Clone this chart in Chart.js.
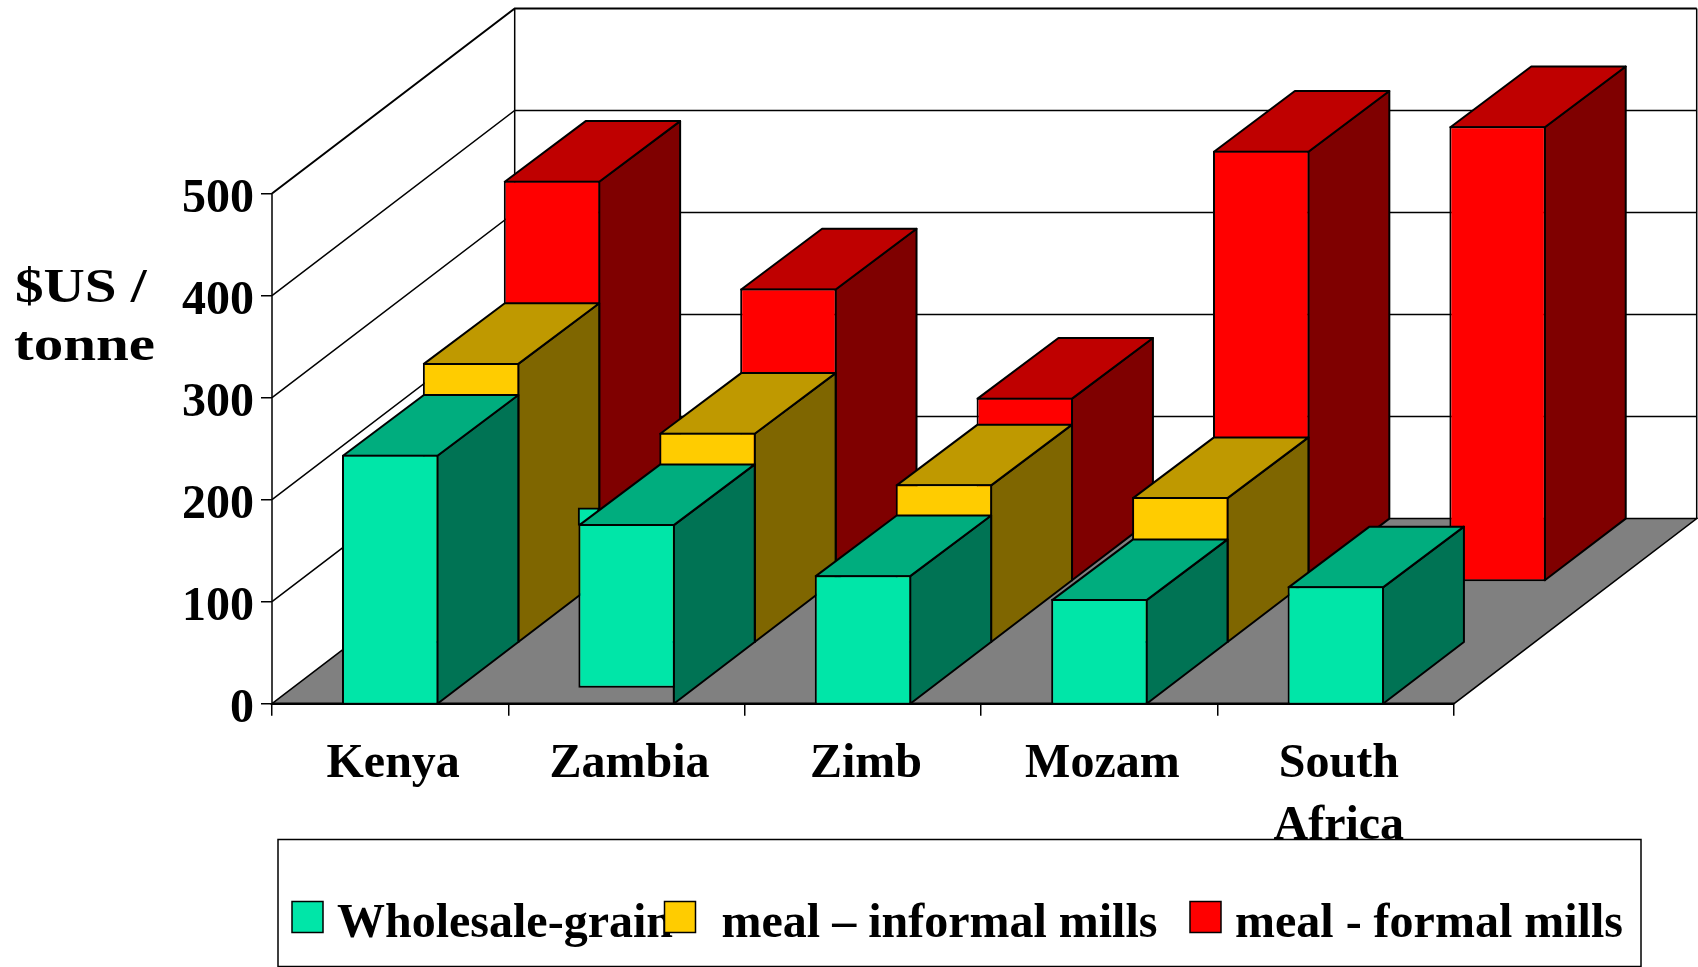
<!DOCTYPE html>
<html>
<head>
<meta charset="utf-8">
<title>Maize prices</title>
<style>
    html, body { margin: 0; padding: 0; background: #fff; overflow: hidden; }
    canvas { display: block; }
</style>
<script src="https://cdn.jsdelivr.net/npm/chart.js@4"></script>
</head>
<body>
<canvas id="chart" width="1698" height="967"></canvas>
<script>
const categories = ['Kenya', 'Zambia', 'Zimb', 'Mozam', ['South', 'Africa']];
const yTicks = [0, 100, 200, 300, 400, 500];
const seriesNames = ['Wholesale-grain', 'meal \u2013 informal mills', 'meal - formal mills'];

// values, the Zambia grain bar floats a little above the floor
const grain = [244, [15.7, 176], 126, 102.5, 115];
const informal = [273.5, 205, 154.5, 142, null];
const formal = [391.5, 286, 179, 421, 445];
// sliver of the Zambia grain bar that pokes out behind its top face
const zambiaSliver = [null, [175, 192], null, null, null];

const frontColors = ['#00E6A8', '#FFCC00', '#FF0000'];
const topColors = ['#00AD7E', '#BF9900', '#BF0000'];
const sideColors = ['#007354', '#7F6600', '#7F0000'];

const FONT = 'bold 48px "Liberation Serif"';
const SLOT_X = 80.9;
const SLOT_Y = 61.7;
const TOP_RISE = 60.7; // top faces come out a touch shallower than the floor slots
const BAR_LINE = 2;

function facePath(ctx, pts, fill) {
    ctx.beginPath();
    pts.forEach((p, i) => i ? ctx.lineTo(p[0], p[1]) : ctx.moveTo(p[0], p[1]));
    ctx.closePath();
    ctx.fillStyle = fill;
    ctx.fill();
    ctx.stroke();
}

const room = {
    id: 'room',
    beforeDatasetsDraw(chart) {
        const { ctx, scales: { x, y } } = chart;
        const dx = SLOT_X * 3, dy = SLOT_Y * 3;
        const y0 = y.getPixelForValue(0);
        const yTop = y.getPixelForValue(500);
        ctx.save();
        ctx.strokeStyle = '#000';
        ctx.lineWidth = 1.5;
        facePath(ctx, [[x.left, y0], [x.left + dx, y0 - dy], [x.right + dx, y0 - dy], [x.right, y0]], '#808080');

        yTicks.forEach(t => {
            if (t === 0) return;
            const py = y.getPixelForValue(t);
            ctx.beginPath();
            ctx.moveTo(x.left, py);
            ctx.lineTo(x.left + dx, py - dy);
            ctx.lineTo(x.right + dx, py - dy);
            ctx.lineWidth = t === 500 ? 2 : 1.5;
            ctx.stroke();
        });
        ctx.lineWidth = 1.5;
        ctx.beginPath();
        ctx.moveTo(x.left + dx, yTop - dy);
        ctx.lineTo(x.left + dx, y0 - dy);
        ctx.moveTo(x.right + dx, yTop - dy);
        ctx.lineTo(x.right + dx, y0 - dy);
        ctx.moveTo(x.left, yTop);
        ctx.lineTo(x.left, y0);
        ctx.stroke();
        ctx.lineWidth = 2.5;
        ctx.beginPath();
        ctx.moveTo(x.left, y0);
        ctx.lineTo(x.right, y0);
        ctx.stroke();
        ctx.restore();
    }
};

// each series sits one depth slot further back, so shift it and add its faces
const depth = {
    id: 'depth',
    beforeDatasetDraw(chart, args) {
        const { ctx, scales: { y } } = chart;
        const ds = chart.data.datasets[args.index];
        const slot = ds.slot;
        ctx.save();
        ctx.translate(SLOT_X * slot + (ds.shiftX || 0), -SLOT_Y * slot);
        if (ds.flat) return;

        const y0 = y.getPixelForValue(0);
        const inset = BAR_LINE / 2;
        ctx.save();
        ctx.strokeStyle = '#000';
        ctx.lineWidth = BAR_LINE;
        ctx.lineJoin = 'round';
        args.meta.data.forEach((bar, i) => {
            if (ds.data[i] === null) return;
            const b = bar.getProps(['x', 'y', 'width'], true);
            const l = b.x - b.width / 2 + inset, r = b.x + b.width / 2 - inset;
            const t = b.y + inset;
            facePath(ctx, [[r, t], [r + SLOT_X, t - TOP_RISE], [r + SLOT_X, y0 - SLOT_Y], [r, y0]], sideColors[slot]);
            facePath(ctx, [[l, t], [l + SLOT_X, t - TOP_RISE], [r + SLOT_X, t - TOP_RISE], [r, t]], topColors[slot]);
        });
        ctx.restore();
    },
    afterDatasetDraw(chart) {
        chart.ctx.restore();
    }
};

function stretchedText(ctx, text, x, y, stretch) {
    ctx.save();
    ctx.translate(x, y);
    ctx.scale(stretch, 1);
    ctx.fillText(text, 0, 0);
    ctx.restore();
}

const captions = {
    id: 'captions',
    afterDraw(chart) {
        const ctx = chart.ctx;
        ctx.save();
        ctx.fillStyle = '#000';
        ctx.font = FONT;
        ctx.textBaseline = 'alphabetic';
        ctx.textAlign = 'left';

        // the axis title is stretched sideways in the original
        stretchedText(ctx, '$US /', 15, 302, 1.19);
        stretchedText(ctx, 'tonne', 14, 360, 1.23);

        // legend box runs off the bottom of the page
        ctx.strokeStyle = '#000';
        ctx.lineWidth = 1.5;
        ctx.strokeRect(278, 839.5, 1363, 127);

        const swatchX = [292, 664.5, 1190];
        const textX = [337, 721.5, 1235];
        seriesNames.forEach((name, i) => {
            ctx.fillStyle = '#000';
            ctx.fillText(name, textX[i], 936.5);
        });
        seriesNames.forEach((name, i) => {
            ctx.fillStyle = frontColors[i];
            ctx.fillRect(swatchX[i], 901.5, 31, 31);
            ctx.strokeRect(swatchX[i], 901.5, 31, 31);
        });
        ctx.restore();
    }
};

function makeSeries(label, data, slot, order, color, extra) {
    return Object.assign({
        label, data, slot, order,
        backgroundColor: color,
        borderColor: '#000',
        borderWidth: BAR_LINE,
        borderSkipped: false,
        grouped: false,
        barPercentage: 0.408,
        categoryPercentage: 1,
        base: -1, // keeps the bottom outline on the floor line, not inside it
        clip: false
    }, extra);
}

new Chart(document.getElementById('chart'), {
    type: 'bar',
    data: {
        labels: categories,
        datasets: [
            makeSeries(seriesNames[0], grain, 0, 1, frontColors[0]),
            makeSeries('', zambiaSliver, 0, 2, frontColors[0], { flat: true, barThickness: 21, shiftX: -38 }),
            makeSeries(seriesNames[1], informal, 1, 3, frontColors[1]),
            makeSeries(seriesNames[2], formal, 2, 4, frontColors[2])
        ]
    },
    options: {
        responsive: false,
        animation: false,
        layout: { padding: { top: 193.5, right: 244, left: 0, bottom: 0 } },
        plugins: { legend: { display: false }, title: { display: false }, tooltip: { enabled: false } },
        scales: {
            x: {
                offset: true,
                grid: { offset: true, drawOnChartArea: false, color: '#000', lineWidth: 1.5, tickLength: 12 },
                border: { display: false },
                ticks: {
                    color: '#000',
                    font: { family: 'Liberation Serif', size: 48, weight: 'bold', lineHeight: 1.285 },
                    maxRotation: 0,
                    autoSkip: false,
                    labelOffset: 3,
                    padding: 18
                },
                afterFit(scale) { scale.height = 263.3; }
            },
            y: {
                min: 0,
                max: 500,
                grid: { drawOnChartArea: false, color: '#000', lineWidth: 1.5, tickLength: 11 },
                border: { display: false },
                ticks: {
                    stepSize: 100,
                    color: '#000',
                    font: { family: 'Liberation Serif', size: 48, weight: 'bold' },
                    padding: 7,
                    labelOffset: 6
                },
                afterBuildTicks(scale) { scale.ticks = yTicks.map(value => ({ value })); },
                afterFit(scale) { scale.width = 272; }
            }
        }
    },
    plugins: [room, depth, captions]
});
</script>
</body>
</html>
